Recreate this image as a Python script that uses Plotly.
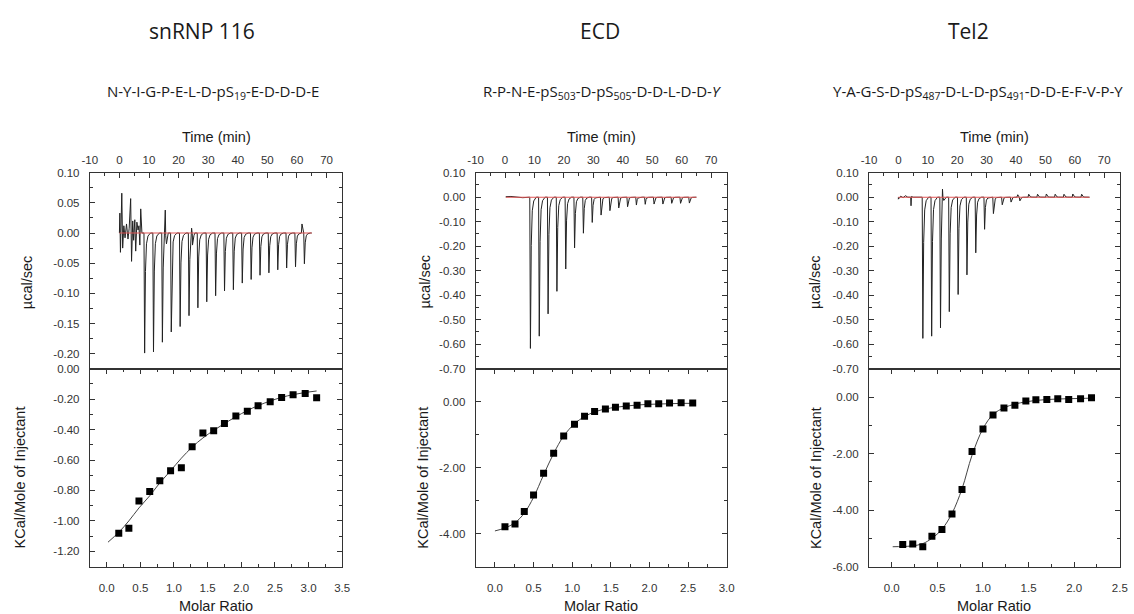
import plotly.graph_objects as go

W, H = 1134, 614

# ---------------- snRNP 116 ----------------
snrnp_title = "snRNP 116"
snrnp_peptide = "N-Y-I-G-P-E-L-D-pS<sub>19</sub>-E-D-D-D-E"
snrnp_inj_time = [8.3, 11.3, 14.3, 17.3, 20.3, 23.3, 26.3, 29.3, 32.3, 35.3,
                  38.3, 41.3, 44.3, 47.3, 50.3, 53.3, 56.3, 59.3, 62.3]
snrnp_peak = [-0.199, -0.197, -0.181, -0.164, -0.155, -0.137, -0.124, -0.114, -0.104, -0.096,
              -0.094, -0.083, -0.077, -0.070, -0.066, -0.061, -0.058, -0.056, -0.051]
# baseline disturbances (time, µcal/sec)
snrnp_noise_t = [0.0, 0.15, 0.35, 0.8, 1.1, 1.5, 1.9, 2.4, 2.9, 3.3, 3.8, 4.1, 4.5, 4.8,
                 5.2, 5.5, 5.9, 6.3, 6.6, 6.9, 7.2, 7.6, 15.5, 15.9, 24.4, 24.7, 25.2, 61.7]
snrnp_noise_v = [0.0, 0.033, -0.032, 0.066, -0.025, 0.012, -0.008, 0.015, -0.010, 0.008, 0.057, -0.047, 0.020, -0.012,
                 0.022, -0.030, 0.018, 0.005, 0.012, -0.020, 0.040, 0.0, 0.038, -0.018, 0.008, -0.020, -0.004, 0.015]
snrnp_ratio = [0.18, 0.33, 0.48, 0.64, 0.79, 0.95, 1.11, 1.27, 1.43, 1.59,
               1.75, 1.92, 2.09, 2.25, 2.43, 2.60, 2.77, 2.95, 3.12]
snrnp_heat = [-1.081, -1.049, -0.870, -0.807, -0.736, -0.671, -0.651, -0.513, -0.422, -0.407,
              -0.360, -0.310, -0.280, -0.243, -0.217, -0.189, -0.170, -0.163, -0.190]
snrnp_fit_x = [0.02, 0.18, 0.33, 0.48, 0.64, 0.79, 0.95, 1.11, 1.27, 1.43,
               1.59, 1.75, 1.92, 2.09, 2.25, 2.43, 2.60, 2.77, 2.95, 3.12]
snrnp_fit_y = [-1.140, -1.075, -1.000, -0.915, -0.835, -0.750, -0.670, -0.588, -0.515, -0.455,
               -0.405, -0.360, -0.315, -0.275, -0.242, -0.212, -0.188, -0.170, -0.156, -0.146]
snrnp_raw_ticks = [0.10, 0.05, 0.00, -0.05, -0.10, -0.15, -0.20]
snrnp_heat_ticks = [0.00, -0.20, -0.40, -0.60, -0.80, -1.00, -1.20]
snrnp_ratio_ticks = [0.0, 0.5, 1.0, 1.5, 2.0, 2.5, 3.0, 3.5]

# ---------------- ECD ----------------
ecd_title = "ECD"
ecd_peptide = "R-P-N-E-pS<sub>503</sub>-D-pS<sub>505</sub>-D-D-L-D-D-<i>Y</i>"
ecd_inj_time = [8.4, 11.4, 14.4, 17.4, 20.4, 23.4, 26.4, 29.4, 32.4, 35.4,
                38.4, 41.4, 44.4, 47.4, 50.4, 53.4, 56.4, 59.4, 62.4]
ecd_peak = [-0.617, -0.567, -0.476, -0.384, -0.293, -0.207, -0.147, -0.103, -0.073, -0.055,
            -0.044, -0.039, -0.032, -0.029, -0.028, -0.028, -0.025, -0.025, -0.024]
ecd_noise_t = [0.3, 2.0, 4.0, 6.0]
ecd_noise_v = [0.002, 0.003, 0.001, -0.002]
ecd_ratio = [0.13, 0.26, 0.38, 0.50, 0.63, 0.76, 0.89, 1.03, 1.16, 1.29,
             1.43, 1.56, 1.70, 1.84, 1.98, 2.12, 2.26, 2.41, 2.56]
ecd_heat = [-3.79, -3.71, -3.33, -2.83, -2.17, -1.56, -1.04, -0.68, -0.44, -0.30,
            -0.22, -0.17, -0.13, -0.11, -0.06, -0.06, -0.04, -0.03, -0.04]
ecd_fit_x = [0.0, 0.13, 0.26, 0.38, 0.50, 0.63, 0.76, 0.89, 1.03, 1.16,
             1.29, 1.43, 1.56, 1.70, 1.84, 1.98, 2.12, 2.26, 2.41, 2.56]
ecd_fit_y = [-3.92, -3.83, -3.67, -3.38, -2.90, -2.22, -1.57, -1.04, -0.67, -0.45,
             -0.31, -0.22, -0.17, -0.13, -0.10, -0.08, -0.07, -0.06, -0.05, -0.05]
ecd_raw_ticks = [0.10, 0.00, -0.10, -0.20, -0.30, -0.40, -0.50, -0.60, -0.70]
ecd_heat_ticks = [0.00, -2.00, -4.00]
ecd_ratio_ticks = [0.0, 0.5, 1.0, 1.5, 2.0, 2.5, 3.0]

# ---------------- Tel2 ----------------
tel2_title = "Tel2"
tel2_peptide = "Y-A-G-S-D-pS<sub>487</sub>-D-L-D-pS<sub>491</sub>-D-D-E-F-V-P-Y"
tel2_inj_time = [8.1, 11.1, 14.1, 17.1, 20.1, 23.1, 26.1, 29.1, 32.1, 35.1,
                 38.1, 41.1, 44.1, 47.1, 50.1, 53.1, 56.1, 59.1, 62.1]
tel2_peak = [-0.576, -0.567, -0.533, -0.467, -0.397, -0.317, -0.227, -0.131, -0.067, -0.031,
             -0.020, -0.015, 0.012, 0.012, 0.013, 0.012, 0.012, 0.013, 0.012]
tel2_noise_t = [0.0, 0.8, 1.6, 2.4, 3.2, 4.2, 4.3, 4.45, 5.0, 15.0, 15.15, 40.6]
tel2_noise_v = [-0.008, 0.004, -0.002, 0.006, 0.0, 0.0, -0.035, 0.003, 0.0, 0.033, 0.0, 0.010]
tel2_ratio = [0.12, 0.23, 0.34, 0.44, 0.55, 0.66, 0.77, 0.88, 1.00, 1.11,
              1.23, 1.35, 1.47, 1.58, 1.70, 1.82, 1.94, 2.07, 2.19]
tel2_heat = [-5.22, -5.20, -5.30, -4.93, -4.69, -4.14, -3.27, -1.93, -1.13, -0.64,
             -0.39, -0.29, -0.14, -0.10, -0.09, -0.06, -0.09, -0.06, -0.03]
tel2_fit_x = [0.01, 0.12, 0.23, 0.34, 0.44, 0.55, 0.66, 0.77, 0.88, 1.00,
              1.11, 1.23, 1.35, 1.47, 1.58, 1.70, 1.82, 1.94, 2.07, 2.19]
tel2_fit_y = [-5.30, -5.29, -5.27, -5.19, -5.00, -4.68, -4.12, -3.25, -2.06, -1.12,
              -0.62, -0.38, -0.25, -0.17, -0.12, -0.09, -0.07, -0.06, -0.05, -0.04]
tel2_raw_ticks = ecd_raw_ticks
tel2_heat_ticks = [0.00, -2.00, -4.00, -6.00]
tel2_ratio_ticks = [0.0, 0.5, 1.0, 1.5, 2.0, 2.5]

time_ticks = [-10, 0, 10, 20, 30, 40, 50, 60, 70]
run_start, run_end = 0.0, 65.0

# injection peak profile: time offset (min) and fraction of the peak amplitude
PEAK_OFFSETS = [0.0, 0.22, 0.5, 0.85, 1.35, 2.2]
PEAK_FRACTIONS = [0.0, 1.0, 0.32, 0.09, 0.025, 0.0]


def thermogram(inj_t, peaks, noise_t, noise_v, t0=run_start, t1=run_end):
    pts = [(t0, 0.0), (t1, 0.0)]
    for t, h in zip(inj_t, peaks):
        for o, f in zip(PEAK_OFFSETS, PEAK_FRACTIONS):
            pts.append((t + o, h * f))
    pts += list(zip(noise_t, noise_v))
    pts.sort(key=lambda p: p[0])
    return [p[0] for p in pts], [p[1] for p in pts]


panels = [
    dict(title=snrnp_title, pep=snrnp_peptide, inj=snrnp_inj_time, peak=snrnp_peak,
         nt=snrnp_noise_t, nv=snrnp_noise_v, ratio=snrnp_ratio, heat=snrnp_heat,
         fx=snrnp_fit_x, fy=snrnp_fit_y, rt=snrnp_raw_ticks, ht=snrnp_heat_ticks,
         xt=snrnp_ratio_ticks, rrange=[-0.225, 0.10], rminor=0.025, hrange=[-1.30, 0.0],
         hminor=0.1, xrange=[-0.25, 3.5], frame=(83, 339), title_x=197, pep_x=208,
         ylab_x=(20, 12), t0=0.0),
    dict(title=ecd_title, pep=ecd_peptide, inj=ecd_inj_time, peak=ecd_peak,
         nt=ecd_noise_t, nv=ecd_noise_v, ratio=ecd_ratio, heat=ecd_heat,
         fx=ecd_fit_x, fy=ecd_fit_y, rt=ecd_raw_ticks, ht=ecd_heat_ticks,
         xt=ecd_ratio_ticks, rrange=[-0.70, 0.10], rminor=0.05, hrange=[-5.0, 1.0],
         hminor=1.0, xrange=[-0.25, 3.0], frame=(474.3, 729), title_x=600, pep_x=602,
         ylab_x=(423, 421), t0=0.3),
    dict(title=tel2_title, pep=tel2_peptide, inj=tel2_inj_time, peak=tel2_peak,
         nt=tel2_noise_t, nv=tel2_noise_v, ratio=tel2_ratio, heat=tel2_heat,
         fx=tel2_fit_x, fy=tel2_fit_y, rt=tel2_raw_ticks, ht=tel2_heat_ticks,
         xt=tel2_ratio_ticks, rrange=[-0.70, 0.10], rminor=0.05, hrange=[-6.0, 1.0],
         hminor=1.0, xrange=[-0.25, 2.5], frame=(873.3, 1127.7), title_x=974, pep_x=984,
         ylab_x=(819, 819), t0=0.0),
]

TOP_PX, MID_PX, BOT_PX = 170, 370, 571.7
y_top = [1 - MID_PX / H, 1 - TOP_PX / H]
y_bot = [1 - BOT_PX / H, 1 - MID_PX / H]

AX_COLOR = "#333333"
TICK_FONT = dict(family="Liberation Sans, Arial, sans-serif", size=11.5, color="#333333")
LABEL_FONT = dict(family="Liberation Sans, Arial, sans-serif", size=14.5, color="#1a1a1a")
HEAD_FONT = dict(family="Open Sans, Noto Sans, sans-serif", size=21, color="#1a1a1a")
PEP_FONT = dict(family="Open Sans, Noto Sans, sans-serif", size=15, color="#1a1a1a")


def base_axis(**kw):
    d = dict(showline=True, linecolor=AX_COLOR, linewidth=1, ticks="inside", ticklen=5,
             tickwidth=1, tickcolor=AX_COLOR, mirror="allticks", showgrid=False,
             zeroline=False, tickfont=TICK_FONT, tickmode="array")
    d.update(kw)
    return d


fig = go.Figure()
layout = {}
annotations = []

for i, p in enumerate(panels):
    xa_top, ya_top = 2 * i + 1, 2 * i + 1
    xa_bot, ya_bot = 2 * i + 2, 2 * i + 2
    xa_mid = 7 + i
    xdom = [p["frame"][0] / W, p["frame"][1] / W]

    def nm(prefix, n):
        return prefix if n == 1 else f"{prefix}{n}"

    # raw heat-rate trace
    tx, ty = thermogram(p["inj"], p["peak"], p["nt"], p["nv"], t0=p["t0"])
    fig.add_trace(go.Scatter(x=tx, y=ty, mode="lines", line=dict(color="#222222", width=1),
                             xaxis=nm("x", xa_top), yaxis=nm("y", ya_top), showlegend=False,
                             hoverinfo="skip"))
    fig.add_trace(go.Scatter(x=[p["t0"], run_end], y=[0.0, 0.0], mode="lines",
                             line=dict(color="#e05555", width=1.1),
                             xaxis=nm("x", xa_top), yaxis=nm("y", ya_top), showlegend=False,
                             hoverinfo="skip"))
    # integrated heats with fitted binding curve
    fig.add_trace(go.Scatter(x=p["fx"], y=p["fy"], mode="lines", line=dict(color="#444444", width=1, shape="spline"),
                             xaxis=nm("x", xa_bot), yaxis=nm("y", ya_bot), showlegend=False))
    fig.add_trace(go.Scatter(x=p["ratio"], y=p["heat"], mode="markers",
                             marker=dict(symbol="square", size=7, color="#000000"),
                             xaxis=nm("x", xa_bot), yaxis=nm("y", ya_bot), showlegend=False))

    layout[nm("xaxis", xa_top)] = base_axis(
        domain=xdom, anchor=nm("y", ya_top), side="top", range=[-10, 75.3], mirror=True,
        tickvals=time_ticks, ticktext=[f"{v:d}" for v in time_ticks], ticklabelstandoff=3,
        minor=dict(tickmode="linear", tick0=0, dtick=5, ticks="inside", ticklen=3, tickcolor=AX_COLOR))
    layout[nm("yaxis", ya_top)] = base_axis(
        domain=y_top, anchor=nm("x", xa_top), range=p["rrange"],
        tickvals=p["rt"], ticktext=[f"{v:.2f}" for v in p["rt"]], ticklabelstandoff=7,
        minor=dict(tickmode="linear", tick0=0, dtick=p["rminor"], ticks="inside", ticklen=3, tickcolor=AX_COLOR))
    layout[nm("xaxis", xa_bot)] = base_axis(
        domain=xdom, anchor=nm("y", ya_bot), range=p["xrange"],
        tickvals=p["xt"], ticktext=[f"{v:.1f}" for v in p["xt"]], ticklabelstandoff=11,
        minor=dict(tickmode="linear", tick0=0, dtick=0.25, ticks="inside", ticklen=3, tickcolor=AX_COLOR))
    layout[nm("yaxis", ya_bot)] = base_axis(
        domain=y_bot, anchor=nm("x", xa_bot), range=p["hrange"],
        tickvals=p["ht"], ticktext=[f"{v:.2f}" for v in p["ht"]], ticklabelstandoff=7,
        minor=dict(tickmode="linear", tick0=0, dtick=p["hminor"], ticks="inside", ticklen=3, tickcolor=AX_COLOR))
    # molar-ratio ticks on the shared edge, pointing into the upper plot
    layout[nm("xaxis", xa_mid)] = dict(
        overlaying=nm("x", xa_bot), anchor="free", position=y_bot[1], side="top",
        range=p["xrange"], showline=False, showgrid=False, zeroline=False, showticklabels=False,
        ticks="outside", ticklen=4, tickcolor=AX_COLOR, tickmode="array", tickvals=p["xt"],
        minor=dict(tickmode="linear", tick0=0, dtick=0.25, ticks="outside", ticklen=2, tickcolor=AX_COLOR))

    cx = (p["frame"][0] + p["frame"][1]) / 2
    annotations += [
        dict(text=p["title"], x=p["title_x"] / W, y=1 - 25 / H, font=HEAD_FONT),
        dict(text=p["pep"], x=p["pep_x"] / W, y=1 - 88 / H, font=PEP_FONT),
        dict(text="Time (min)", x=cx / W, y=1 - 134 / H, font=LABEL_FONT),
        dict(text="Molar Ratio", x=cx / W, y=1 - 612 / H, font=LABEL_FONT),
        dict(text="µcal/sec", x=p["ylab_x"][0] / W, y=1 - 282 / H, font=LABEL_FONT, textangle=-90),
        dict(text="KCal/Mole of Injectant", x=p["ylab_x"][1] / W, y=1 - 481 / H, font=LABEL_FONT,
             textangle=-90),
    ]

for a in annotations:
    a.update(xref="paper", yref="paper", showarrow=False, xanchor="center", yanchor="middle")

fig.update_layout(width=W, height=H, margin=dict(l=0, r=0, t=0, b=0),
                  paper_bgcolor="white", plot_bgcolor="white", annotations=annotations,
                  **layout)

fig.write_html("out.html")
